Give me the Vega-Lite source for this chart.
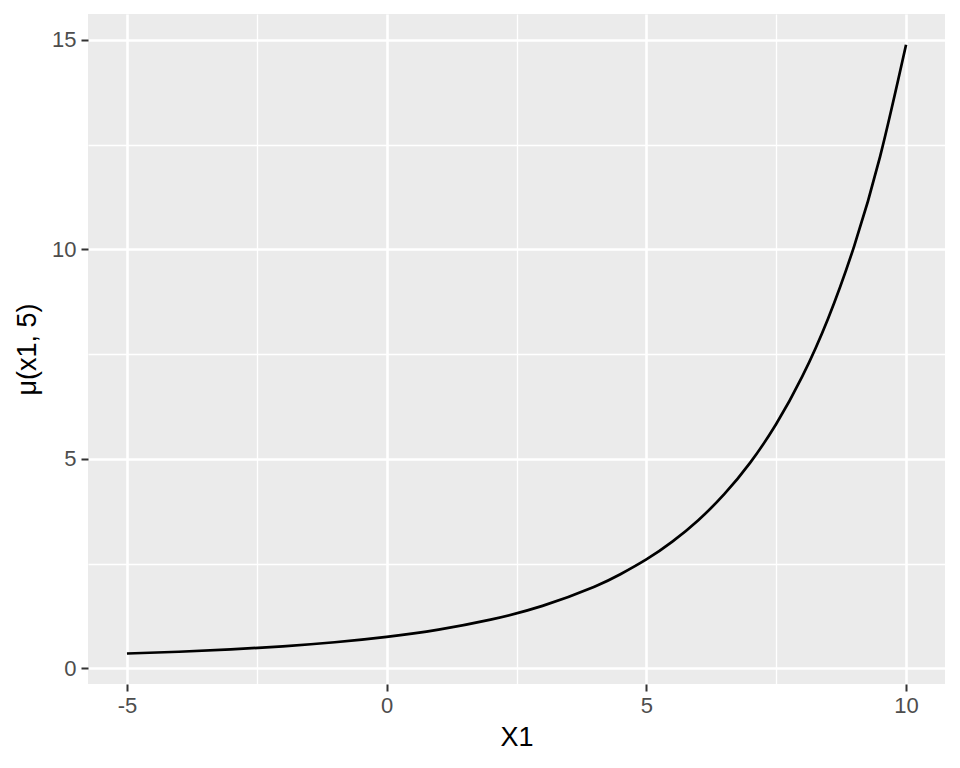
{
  "$schema": "https://vega.github.io/schema/vega-lite/v6.json",
  "width": 857,
  "height": 670,
  "autosize": {"type": "none"},
  "padding": {"left": 88, "top": 14, "right": 15, "bottom": 84},
  "background": "white",
  "config": {
    "view": {"fill": "#EBEBEB", "stroke": null},
    "font": "Liberation Sans",
    "axis": {
      "domain": false,
      "grid": true,
      "gridColor": "white",
      "gridOpacity": 1,
      "tickColor": "#333333",
      "tickWidth": 2,
      "tickSize": 7,
      "labelColor": "#4D4D4D",
      "labelFont": "Liberation Sans",
      "labelFontSize": 22,
      "titleFont": "Liberation Sans",
      "titleFontSize": 27,
      "titleFontWeight": "normal",
      "titleColor": "black"
    }
  },
  "data": {
    "values": [
      {"x1": -5, "mu": 0.358},
      {"x1": -4, "mu": 0.4},
      {"x1": -3, "mu": 0.455},
      {"x1": -2, "mu": 0.529},
      {"x1": -1, "mu": 0.626},
      {"x1": 0, "mu": 0.755},
      {"x1": 1, "mu": 0.929},
      {"x1": 2, "mu": 1.167},
      {"x1": 3, "mu": 1.494},
      {"x1": 4, "mu": 1.952},
      {"x1": 4.5, "mu": 2.248},
      {"x1": 5, "mu": 2.602},
      {"x1": 5.5, "mu": 3.027},
      {"x1": 6, "mu": 3.539},
      {"x1": 6.5, "mu": 4.16},
      {"x1": 7, "mu": 4.914},
      {"x1": 7.5, "mu": 5.835},
      {"x1": 8, "mu": 6.964},
      {"x1": 8.5, "mu": 8.355},
      {"x1": 9, "mu": 10.076},
      {"x1": 9.5, "mu": 12.216},
      {"x1": 10, "mu": 14.885}
    ]
  },
  "layer": [
    {
      "mark": {"type": "line", "opacity": 0},
      "encoding": {
        "x": {
          "field": "x1",
          "type": "quantitative",
          "scale": {"domain": [-5.75, 10.75], "nice": false, "zero": false},
          "axis": {
            "orient": "bottom",
            "grid": true,
            "values": [-2.5, 2.5, 7.5],
            "gridWidth": 1.3,
            "labels": false,
            "ticks": false,
            "title": null
          }
        },
        "y": {
          "field": "mu",
          "type": "quantitative",
          "scale": {"domain": [-0.37, 15.62], "nice": false, "zero": false},
          "axis": {
            "orient": "left",
            "grid": true,
            "values": [2.5, 7.5, 12.5],
            "gridWidth": 1.3,
            "labels": false,
            "ticks": false,
            "title": null
          }
        }
      }
    },
    {
      "mark": {"type": "line", "color": "black", "strokeWidth": 2.7, "interpolate": "natural"},
      "encoding": {
        "x": {
          "field": "x1",
          "type": "quantitative",
          "scale": {"domain": [-5.75, 10.75], "nice": false, "zero": false},
          "axis": {
            "orient": "bottom",
            "grid": true,
            "values": [-5, 0, 5, 10],
            "gridWidth": 2.6,
            "labelPadding": 4,
            "labelExpr": "replace(datum.label, '−', '-')",
            "title": "X1",
            "titlePadding": 8
          }
        },
        "y": {
          "field": "mu",
          "type": "quantitative",
          "scale": {"domain": [-0.37, 15.62], "nice": false, "zero": false},
          "axis": {
            "orient": "left",
            "grid": true,
            "values": [0, 5, 10, 15],
            "gridWidth": 2.6,
            "labelPadding": 5,
            "title": "μ(x1, 5)",
            "titlePadding": 10
          }
        }
      }
    }
  ],
  "resolve": {"axis": {"x": "independent", "y": "independent"}}
}
